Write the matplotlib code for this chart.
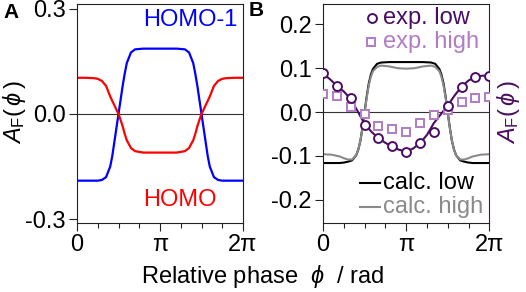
import numpy as np
import matplotlib
matplotlib.use('Agg')
import matplotlib.pyplot as plt

plt.rcParams['font.family'] = ['Liberation Sans', 'DejaVu Sans']
plt.rcParams['mathtext.fontset'] = 'custom'
plt.rcParams['mathtext.rm'] = 'Liberation Sans'
plt.rcParams['mathtext.it'] = 'Liberation Sans:italic'
plt.rcParams['mathtext.fallback'] = 'stixsans'
plt.rcParams['axes.unicode_minus'] = False

# ---- panel A: HOMO / HOMO-1 (phase in units of pi)
phase_a = np.array([0, 0.1, 0.2, 0.25, 0.3, 0.35, 0.4, 0.425, 0.45, 0.475, 0.5,
                    0.525, 0.55, 0.575, 0.6, 0.65, 0.7, 0.8, 0.9, 1.0,
                    1.1, 1.2, 1.3, 1.35, 1.4, 1.425, 1.45, 1.475, 1.5,
                    1.525, 1.55, 1.575, 1.6, 1.65, 1.7, 1.75, 1.8, 1.9, 2.0])
homo1 = [-0.19, -0.19, -0.19, -0.19, -0.188, -0.18, -0.15, -0.12, -0.08, -0.04, 0.0,
         0.04, 0.08, 0.115, 0.145, 0.175, 0.184, 0.186, 0.186, 0.186,
         0.186, 0.186, 0.184, 0.175, 0.145, 0.115, 0.08, 0.04, 0.0,
         -0.04, -0.08, -0.12, -0.15, -0.18, -0.188, -0.19, -0.19, -0.19, -0.19]
homo = [0.103, 0.103, 0.102, 0.100, 0.094, 0.080, 0.050, 0.037, 0.025, 0.012, 0.0,
        -0.017, -0.035, -0.057, -0.075, -0.097, -0.106, -0.110, -0.110, -0.110,
        -0.110, -0.110, -0.106, -0.097, -0.075, -0.057, -0.035, -0.017, 0.0,
        0.012, 0.025, 0.037, 0.050, 0.080, 0.094, 0.100, 0.102, 0.103, 0.103]

# ---- panel B: experiment (steps of pi/6) and calculation
phase_exp = np.arange(13) / 6
exp_low = [0.088, 0.060, 0.032, -0.029, -0.059, -0.078, -0.090,
           -0.071, -0.046, 0.015, 0.058, 0.079, 0.083]
exp_high = [0.041, 0.036, 0.011, -0.005, -0.031, -0.038, -0.046,
            -0.024, -0.006, 0.005, 0.024, 0.032, 0.035]

phase_fit = np.arange(25) / 12
fit_low = [0.088, 0.075, 0.060, 0.047, 0.030, 0.002, -0.027, -0.045, -0.059,
           -0.070, -0.079, -0.086, -0.090, -0.083, -0.071, -0.052, -0.025,
           -0.005, 0.015, 0.038, 0.058, 0.072, 0.080, 0.083, 0.083]

calc_low = [-0.116, -0.116, -0.116, -0.115, -0.113, -0.110, -0.098, -0.085, -0.065, -0.035, 0.0,
            0.035, 0.065, 0.085, 0.098, 0.110, 0.113, 0.114, 0.114, 0.114,
            0.114, 0.114, 0.113, 0.110, 0.098, 0.085, 0.065, 0.035, 0.0,
            -0.035, -0.065, -0.085, -0.098, -0.110, -0.113, -0.115, -0.116, -0.116, -0.116]
calc_high = [-0.096, -0.097, -0.101, -0.105, -0.108, -0.108, -0.098, -0.085, -0.065, -0.036, -0.002,
             0.032, 0.060, 0.080, 0.093, 0.103, 0.106, 0.104, 0.100, 0.099,
             0.100, 0.104, 0.106, 0.103, 0.093, 0.080, 0.060, 0.032, -0.002,
             -0.036, -0.065, -0.085, -0.098, -0.108, -0.108, -0.105, -0.101, -0.097, -0.096]

dark_purple = '#4b0d62'
light_purple = '#b07cc6'
spine_col = '#222222'
fs = 17

fig = plt.figure(figsize=(5.26, 2.92), dpi=100)
ax_a = fig.add_axes([77 / 526, 1 - 222.7 / 292, 166 / 526, 219 / 292])
ax_b = fig.add_axes([323 / 526, 1 - 222.7 / 292, 166.3 / 526, 219 / 292])

for ax in (ax_a, ax_b):
    ax.axhline(0, color='#333333', lw=0.8, zorder=1)
    ax.set_xlim(0, 2 * np.pi)
    ax.set_xticks([0, np.pi, 2 * np.pi])
    ax.set_xticklabels(['0', 'π', '2π'])
    ax.set_xticks(np.arange(9) * np.pi / 4, minor=True)
    ax.tick_params(axis='both', which='major', direction='out', length=6,
                   width=0.8, labelsize=fs, pad=2, color=spine_col)
    ax.tick_params(axis='x', which='minor', direction='out', length=3.5,
                   width=0.8, color=spine_col)
    ax.tick_params(axis='x', which='major', pad=2)
    for s in ax.spines.values():
        s.set_linewidth(0.8)
        s.set_color(spine_col)

# panel A
ax_a.plot(phase_a * np.pi, homo1, color='#0000ff', lw=1.6)
ax_a.plot(phase_a * np.pi, homo, color='#ff0000', lw=1.6)
ax_a.set_ylim(-0.3097, 0.314)
ax_a.set_yticks([-0.3, 0.0, 0.3])
ax_a.set_yticklabels(['-0.3', '0.0', '0.3'])
ax_a.text(0.398, 0.926, 'HOMO-1', color='#0000ff', fontsize=fs,
          transform=ax_a.transAxes, va='center', ha='left')
ax_a.text(0.398, 0.104, 'HOMO', color='#ff0000', fontsize=fs,
          transform=ax_a.transAxes, va='center', ha='left')

# panel B
ax_b.plot(phase_a * np.pi, calc_low, color='black', lw=1.5, zorder=2)
ax_b.plot(phase_a * np.pi, calc_high, color='#8a8a8a', lw=1.5, zorder=2)
ax_b.plot(phase_fit * np.pi, fit_low, color=dark_purple, lw=1.5, zorder=3)
ax_b.plot(phase_exp * np.pi, exp_high, ls='none', marker='s', ms=5.8,
          mfc='white', mec=light_purple, mew=1.4, zorder=4)
ax_b.plot(phase_exp * np.pi, exp_low, ls='none', marker='o', ms=6.4,
          mfc='white', mec=dark_purple, mew=1.4, zorder=5)
ax_b.set_ylim(-0.252, 0.247)
ax_b.set_yticks([-0.2, -0.1, 0.0, 0.1, 0.2])
ax_b.set_yticklabels(['-0.2', '-0.1', '0.0', '0.1', '0.2'])
ax_b.spines['right'].set_color(dark_purple)

# legend of panel B
tr = ax_b.transAxes
ax_b.plot([0.295], [0.935], transform=tr, marker='o', ms=6.4, mfc='white',
          mec=dark_purple, mew=1.4, clip_on=False)
ax_b.text(0.36, 0.935, 'exp. low', color=dark_purple, fontsize=fs,
          transform=tr, va='center', ha='left')
ax_b.plot([0.289], [0.826], transform=tr, marker='s', ms=5.8, mfc='white',
          mec=light_purple, mew=1.4, clip_on=False)
ax_b.text(0.359, 0.826, 'exp. high', color=light_purple, fontsize=fs,
          transform=tr, va='center', ha='left')
ax_b.plot([0.222, 0.342], [0.18, 0.18], transform=tr, color='black', lw=1.5)
ax_b.text(0.359, 0.18, 'calc. low', color='black', fontsize=fs,
          transform=tr, va='center', ha='left')
ax_b.plot([0.222, 0.342], [0.07, 0.07], transform=tr, color='#8a8a8a', lw=1.5)
ax_b.text(0.359, 0.07, 'calc. high', color='#8a8a8a', fontsize=fs,
          transform=tr, va='center', ha='left')

# labels
ylab = r'$A_{\mathrm{F}}(\,\phi\,)$'
fig.text(15 / 526, 1 - 112 / 292, ylab, rotation=90, fontsize=fs,
         ha='center', va='center')
fig.text(509 / 526, 1 - 112 / 292, ylab, rotation=90, fontsize=fs,
         ha='center', va='center', color=dark_purple)
fig.text(262.5 / 526, 1 - 277 / 292, r'Relative phase  $\phi$  / rad',
         fontsize=fs, ha='center', va='center')
fig.text(3 / 526, 1 - 12 / 292, 'A', fontsize=15, fontweight='bold',
         ha='left', va='center')
fig.text(249 / 526, 1 - 10 / 292, 'B', fontsize=15, fontweight='bold',
         ha='left', va='center')

fig.savefig('out.png', dpi=100)
